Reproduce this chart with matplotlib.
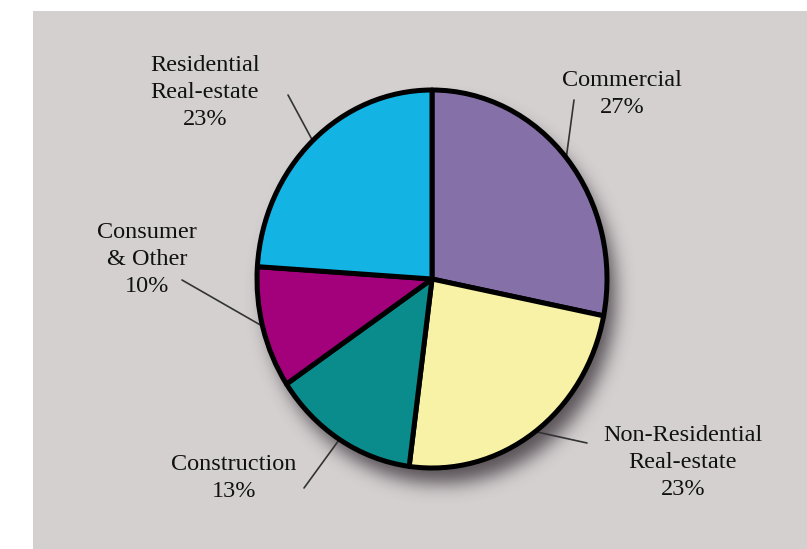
import numpy as np
import matplotlib

matplotlib.use("Agg")

import matplotlib.pyplot as plt
from matplotlib.patches import Rectangle

# loan mix by segment, clockwise from 12 o'clock
categories = [
    "Commercial",
    "Non-Residential\nReal-estate",
    "Construction",
    "Consumer\n& Other",
    "Residential\nReal-estate",
]
shares = [27, 23, 13, 10, 23]
colors = ["#8571a8", "#f7f2a6", "#0a8c8c", "#a3007b", "#13b4e4"]

W, H = 807, 549
BG = "#d4d0d0"

# layout in pixels from top-left: label (centre x, baseline of last line)
# and the outer end of each leader line
label_pos = [(622, 113), (683, 495), (234, 497), (147, 292), (205, 125)]
leader_end = [(574, 100), (587, 443), (304, 488), (182, 280), (288, 95)]

CX, CY = 432, 279
RX, RY = 175, 189
PAD = 1.06


def _soft_shadow(dx=8, dy=15, sigma=9.0, strength=0.72):
    yy, xx = np.mgrid[0:H, 0:W]
    mask = (((xx - (CX + dx)) / RX) ** 2 + ((yy - (CY + dy)) / RY) ** 2 <= 1.0).astype(float)
    r = int(3 * sigma)
    t = np.arange(-r, r + 1)
    k = np.exp(-0.5 * (t / sigma) ** 2)
    k /= k.sum()
    mask = np.apply_along_axis(lambda v: np.convolve(v, k, mode="same"), 0, mask)
    mask = np.apply_along_axis(lambda v: np.convolve(v, k, mode="same"), 1, mask)
    rgba = np.zeros((H, W, 4))
    rgba[..., 0] = 0.16
    rgba[..., 1] = 0.13
    rgba[..., 2] = 0.16
    rgba[..., 3] = mask * strength
    return rgba


fig = plt.figure(figsize=(W / 100, H / 100), dpi=100, facecolor="white")

ax_bg = fig.add_axes([0, 0, 1, 1])
ax_bg.set_xlim(0, W)
ax_bg.set_ylim(H, 0)
ax_bg.axis("off")
ax_bg.add_patch(Rectangle((33, 11), W - 33, H - 11, facecolor=BG, edgecolor="none"))
ax_bg.imshow(_soft_shadow(), extent=(0, W, H, 0), aspect="auto", zorder=2)

ax_pie = fig.add_axes([
    (CX - RX * PAD) / W,
    (H - CY - RY * PAD) / H,
    2 * RX * PAD / W,
    2 * RY * PAD / H,
])
wedges, _ = ax_pie.pie(
    shares,
    colors=colors,
    startangle=90,
    counterclock=False,
    wedgeprops={"edgecolor": "black", "linewidth": 3.6, "joinstyle": "round"},
)
ax_pie.set_aspect("auto")
ax_pie.set_xlim(-PAD, PAD)
ax_pie.set_ylim(-PAD, PAD)
ax_pie.axis("off")

for wedge, (ex, ey) in zip(wedges, leader_end):
    mid = np.deg2rad((wedge.theta1 + wedge.theta2) / 2)
    ax_pie.annotate(
        "",
        xy=(0.99 * np.cos(mid), 0.99 * np.sin(mid)),
        xycoords="data",
        xytext=(ex, H - ey),
        textcoords="figure pixels",
        arrowprops={"arrowstyle": "-", "color": "#333333", "lw": 1.2,
                    "shrinkA": 0, "shrinkB": 0},
        annotation_clip=False,
        zorder=0,
    )

for name, share, (lx, ly) in zip(categories, shares, label_pos):
    fig.text(
        lx / W,
        1 - ly / H,
        f"{name}\n{share}%",
        ha="center",
        va="baseline",
        multialignment="center",
        fontsize=17.5,
        family="Liberation Serif",
        color="#111111",
        linespacing=1.36,
    )

fig.savefig("out.png", dpi=100, facecolor="white")
plt.close(fig)
